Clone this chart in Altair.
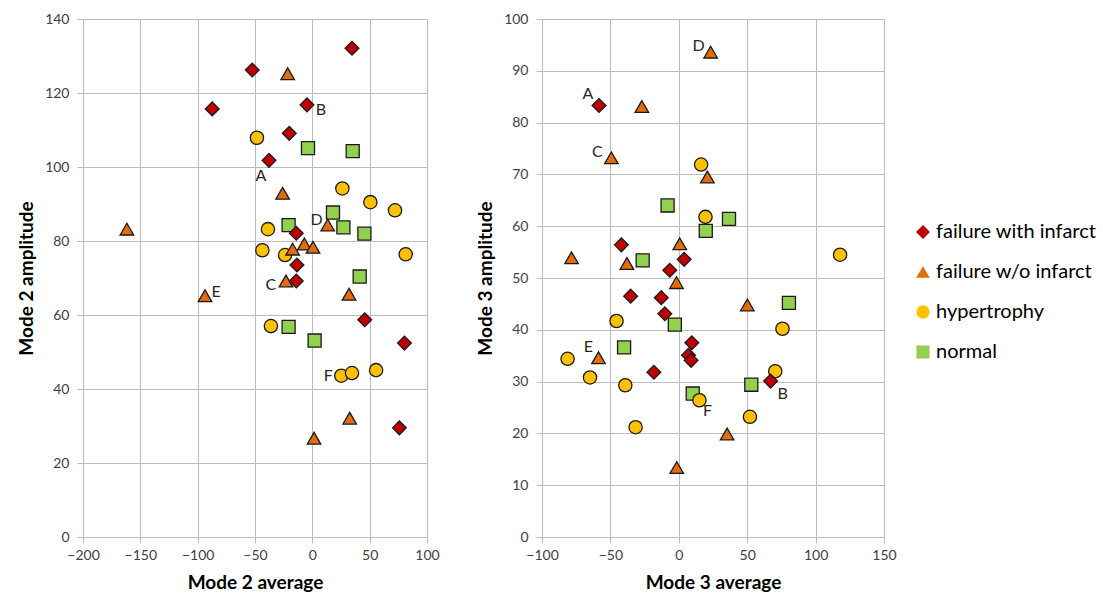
import altair as alt
import pandas as pd

groups = ["failure with infarct", "failure w/o infarct", "hypertrophy", "normal"]

# ---- Mode 2 panel (left) ----
m2_infarct_x = [34.6, -52.4, -87.3, -4.7, -20.1, -37.8, -14.0, -13.4, -14.0, 45.7, 80.3, 75.9]
m2_infarct_y = [132.1, 126.2, 115.7, 116.8, 109.1, 101.8, 82.1, 73.5, 69.2, 58.7, 52.4, 29.5]
m2_woinf_x = [-21.5, -25.9, -161.7, 13.4, -7.0, 0.6, -17.2, -23.0, -93.6, 32.0, 32.6, 1.5]
m2_woinf_y = [125.2, 92.9, 83.2, 84.3, 79.2, 78.3, 77.8, 69.2, 65.2, 65.6, 32.1, 26.7]
m2_hyper_x = [-48.3, 26.2, 50.6, 72.1, -38.7, -43.6, -23.8, 81.4, -36.1, 25.3, 34.6, 55.6]
m2_hyper_y = [107.9, 94.2, 90.5, 88.3, 83.2, 77.5, 76.2, 76.4, 57.0, 43.6, 44.3, 45.1]
m2_normal_x = [-3.8, 35.2, 18.0, 27.1, 45.4, -20.7, 41.3, -20.7, 2.0]
m2_normal_y = [105.1, 104.3, 87.7, 83.7, 82.0, 84.3, 70.4, 56.8, 53.1]

# ---- Mode 3 panel (right) ----
m3_infarct_x = [-58.3, -42.0, 3.9, -6.6, -35.2, -12.8, -10.2, 9.5, 7.1, 9.0, -18.2, 67.1]
m3_infarct_y = [83.3, 56.4, 53.6, 51.5, 46.5, 46.2, 43.1, 37.5, 35.1, 34.1, 31.8, 30.1]
m3_woinf_x = [23.3, -27.0, -49.3, 20.9, -78.4, -37.9, 0.7, -1.7, 50.1, -58.7, 35.3, -1.5]
m3_woinf_y = [93.6, 83.1, 73.2, 69.5, 53.9, 52.8, 56.6, 49.1, 44.8, 34.6, 19.9, 13.4]
m3_hyper_x = [16.3, 19.5, 117.9, -45.5, 75.8, -81.3, -64.9, -39.1, 15.1, 70.5, 52.0, -31.6]
m3_hyper_y = [71.9, 61.8, 54.5, 41.7, 40.2, 34.4, 30.8, 29.3, 26.4, 32.0, 23.2, 21.2]
m3_normal_x = [-8.2, 36.7, 19.7, -26.4, -2.9, -40.0, 80.5, 10.2, 53.0]
m3_normal_y = [64.0, 61.4, 59.1, 53.4, 41.0, 36.6, 45.2, 27.7, 29.4]

# ---- point labels ----
label_names = ["A", "B", "C", "D", "E", "F"]
m2_label_x = [-37.8, -4.7, -23.0, 13.4, -93.6, 25.3]
m2_label_y = [101.8, 116.8, 69.2, 84.3, 65.2, 43.6]
m3_label_x = [-58.3, 67.1, -49.3, 23.3, -58.7, 15.1]
m3_label_y = [83.3, 30.1, 73.2, 93.6, 34.6, 26.4]

# axis ticks
m2_xticks = [-200, -150, -100, -50, 0, 50, 100]
m2_yticks = [0, 20, 40, 60, 80, 100, 120, 140]
m3_xticks = [-100, -50, 0, 50, 100, 150]
m3_yticks = [0, 10, 20, 30, 40, 50, 60, 70, 80, 90, 100]

# ---- styles ----
shapes = ["diamond", "triangle-up", "circle", "square"]
fills = ["#C00000", "#E46C0A", "#FFC000", "#92D050"]
sizes = [190, 170, 145, 100]
FONT = "Lato"
m2_offsets = {"A": (-8, 16), "B": (14, 5), "C": (-15, 4), "D": (-11, -5), "E": (11, -4), "F": (-13, 0)}
m3_offsets = {"A": (-11, -12), "B": (12, 13), "C": (-14, -6), "D": (-12, -6), "E": (-10, -11), "F": (8, 11)}


def build_df(xs_list, ys_list):
    rows = []
    # draw order: normal, hypertrophy, w/o infarct, infarct
    for gi in [3, 2, 1, 0]:
        for x, y in zip(xs_list[gi], ys_list[gi]):
            rows.append({"x": x, "y": y, "group": groups[gi]})
    return pd.DataFrame(rows)


def panel(df, lx, ly, offsets, xdom, ydom, xticks, yticks, xtitle, ytitle, w, h):
    xenc = alt.X("x:Q", scale=alt.Scale(domain=xdom, nice=False, zero=False),
                 axis=alt.Axis(values=xticks, title=xtitle, grid=True, labelFlush=False,
                               labelPadding=5, titlePadding=11))
    yenc = alt.Y("y:Q", scale=alt.Scale(domain=ydom, nice=False, zero=False),
                 axis=alt.Axis(values=yticks, title=ytitle, grid=True, labelFlush=False))
    pts = alt.Chart(df).mark_point(filled=True, stroke="#1a1a1a", strokeWidth=1.3, opacity=1).encode(
        x=xenc,
        y=yenc,
        shape=alt.Shape("group:N", scale=alt.Scale(domain=groups, range=shapes), title=None),
        fill=alt.Fill("group:N", scale=alt.Scale(domain=groups, range=fills), title=None),
        size=alt.Size("group:N", scale=alt.Scale(domain=groups, range=sizes), title=None),
    )
    layers = [pts]
    for name, x, y in zip(label_names, lx, ly):
        dx, dy = offsets[name]
        ldf = pd.DataFrame({"x": [x], "y": [y], "label": [name]})
        layers.append(
            alt.Chart(ldf).mark_text(dx=dx, dy=dy, font=FONT, fontSize=16, color="#262626",
                                     align="center", baseline="middle").encode(
                x="x:Q", y="y:Q", text="label:N")
        )
    return alt.layer(*layers).properties(width=w, height=h)


df2 = build_df([m2_infarct_x, m2_woinf_x, m2_hyper_x, m2_normal_x],
               [m2_infarct_y, m2_woinf_y, m2_hyper_y, m2_normal_y])
df3 = build_df([m3_infarct_x, m3_woinf_x, m3_hyper_x, m3_normal_x],
               [m3_infarct_y, m3_woinf_y, m3_hyper_y, m3_normal_y])

left = panel(df2, m2_label_x, m2_label_y, m2_offsets, [-200, 100], [0, 140],
             m2_xticks, m2_yticks, "Mode 2 average", "Mode 2 amplitude", 344, 518)
right = panel(df3, m3_label_x, m3_label_y, m3_offsets, [-100, 150], [0, 100],
              m3_xticks, m3_yticks, "Mode 3 average", "Mode 3 amplitude", 342, 518)

chart = alt.hconcat(left, right, spacing=36).resolve_scale(
    x="independent", y="independent", shape="shared", fill="shared", size="shared"
).properties(
    padding={"left": 17, "top": 12, "right": 0, "bottom": 0},
    background="white",
).configure_view(stroke=None).configure_axis(
    gridColor="#BCBCBC", gridWidth=1.1,
    domainColor="#BCBCBC", tickColor="#BCBCBC", tickSize=6,
    labelFont=FONT, labelFontSize=14, labelColor="#404040", labelPadding=8,
    titleFont=FONT, titleFontSize=19, titleFontWeight="bold", titleColor="#000000",
    titlePadding=8,
).configure_legend(
    orient="none", legendX=830, legendY=203,
    labelFont=FONT, labelFontSize=20, labelColor="#000000", labelLimit=400,
    rowPadding=20, symbolStrokeColor="#1a1a1a", symbolStrokeWidth=1.3,
    labelOffset=3,
)

chart.save("out.html", embed_options={"renderer": "svg", "actions": False})
